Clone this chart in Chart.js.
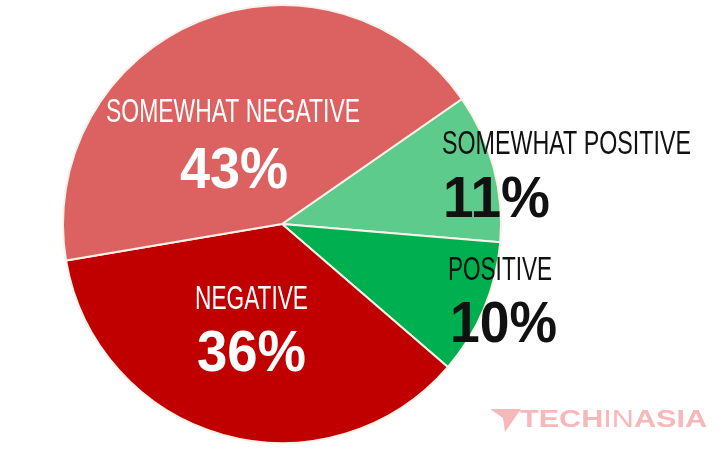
<!DOCTYPE html>
<html>
<head>
	<title>Sentiment</title>
	<script src="https://cdn.jsdelivr.net/npm/chart.js@4.4.1/dist/chart.umd.min.js"></script>
	<style>
		html, body { margin: 0; padding: 0; background: #fff; }
	</style>
</head>
<body>
	<canvas id="pie" width="720" height="450"></canvas>
	<script>
		var categories = ['SOMEWHAT POSITIVE', 'POSITIVE', 'NEGATIVE', 'SOMEWHAT NEGATIVE'];
		var shares = [11, 10, 36, 43];
		var colors = ['#5ccb8b', '#00b050', '#c00000', '#dc6262'];

		// label layout: [title x, title y, title width, percent x, percent y, percent width, color]
		var labelSpots = [
			[442, 142, 249, 443, 196, 107, '#111'],
			[448, 268, 104, 450, 321, 107, '#111'],
			[195, 297, 113, 197, 350, 109, '#fff'],
			[106, 110, 254, 180, 167, 108, '#fff']
		];

		var font = '"Liberation Sans", Arial, sans-serif';

		// condensed look: squeeze text horizontally to a given width
		function fitText(c, text, x, y, w) {
			var m = c.measureText(text).width;
			c.save();
			c.translate(x, y);
			c.scale(w / m, 1);
			c.fillText(text, 0, 0);
			c.restore();
		}

		var labels = {
			id: 'labels',
			afterDraw: function (chart) {
				var c = chart.ctx;
				c.save();
				c.textBaseline = 'alphabetic';
				c.textAlign = 'left';
				for (var i = 0; i < categories.length; i++) {
					var s = labelSpots[i];
					c.fillStyle = s[6];
					c.font = '34px ' + font;
					fitText(c, categories[i], s[0], s[1] + 12, s[2]);
					c.font = 'bold 58px ' + font;
					fitText(c, shares[i] + '%', s[3], s[4] + 21, s[5]);
				}

				// techinasia mark
				c.fillStyle = '#f6b8b8';
				c.beginPath();
				c.moveTo(490, 409);
				c.lineTo(521, 409);
				c.lineTo(505, 432);
				c.lineTo(503, 418);
				c.closePath();
				c.fill();
				c.font = 'bold 24px ' + font;
				var w1 = c.measureText('TECH').width;
				var w3 = c.measureText('ASIA').width;
				c.font = '24px ' + font;
				var w2 = c.measureText('IN').width;
				var k = 187 / (w1 + w2 + w3);
				c.save();
				c.translate(520, 427);
				c.scale(k, 1);
				c.font = 'bold 24px ' + font;
				c.fillText('TECH', 0, 0);
				c.font = '24px ' + font;
				c.fillText('IN', w1, 0);
				c.font = 'bold 24px ' + font;
				c.fillText('ASIA', w1 + w2, 0);
				c.restore();
				c.restore();
			}
		};

		var ctx = document.getElementById('pie').getContext('2d');
		var chart = new Chart(ctx, {
			type: 'pie',
			data: {
				labels: categories,
				datasets: [{
					data: shares,
					backgroundColor: colors,
					borderColor: '#fdf1ea',
					borderWidth: 2
				}]
			},
			options: {
				responsive: false,
				animation: false,
				rotation: 55.2,
				layout: { padding: { left: 62, right: 218, top: 4, bottom: 6 } },
				plugins: {
					legend: { display: false },
					tooltip: { enabled: false }
				}
			},
			plugins: [labels]
		});
	</script>
</body>
</html>
